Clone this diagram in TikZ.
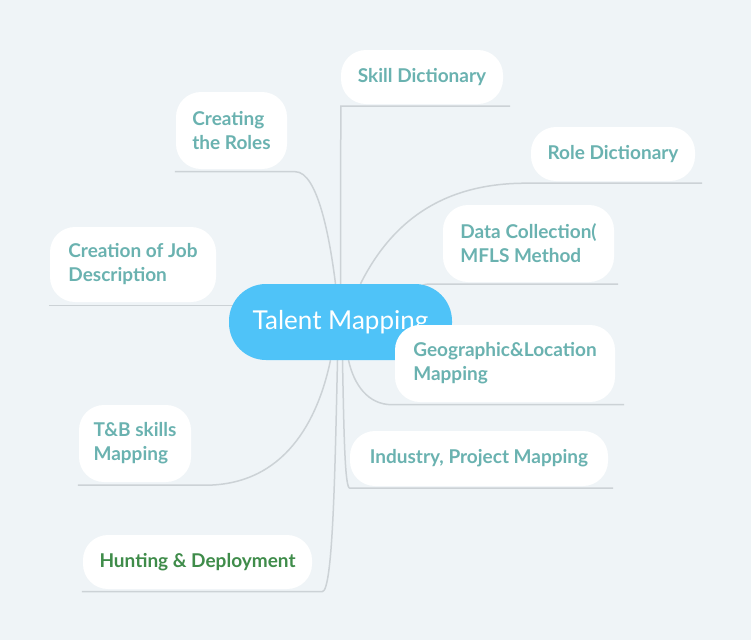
\documentclass[tikz,border=0pt]{standalone}
\usepackage{fontspec}
\setmainfont{Lato}
\usepackage{xcolor}
\usepackage{tikz}
\usetikzlibrary{positioning}

\definecolor{bgcol}{RGB}{239,244,247}
\definecolor{hubblue}{RGB}{79,195,248}
\definecolor{topicteal}{RGB}{106,178,176}
\definecolor{topicgreen}{RGB}{63,140,74}
\definecolor{linegray}{RGB}{204,210,214}

\pgfdeclarelayer{edges}
\pgfsetlayers{edges,main}

\begin{document}
\begin{tikzpicture}[
  x=1pt, y=-1pt,
  topic/.style={rectangle, rounded corners=25pt, fill=white, text=topicteal, font=\fontsize{19}{24}\selectfont\bfseries, align=left, inner sep=0pt},
  hub/.style={rectangle, rounded corners=37pt, fill=hubblue, text=white, font=\fontsize{26}{30}\selectfont, inner sep=0pt},
  branch/.style={draw=linegray, line width=1.5pt}
]

\useasboundingbox (0,0) rectangle (751,640);

% Skill Dictionary box
\node[topic, minimum width=162pt, minimum height=54pt] (skill) at (422,77) {Skill Dictionary};

% Creating the Roles box
\node[topic, minimum width=111pt, minimum height=77pt] (roles) at (231.5,130.5) {Creating\\the Roles};

% Role Dictionary box
\node[topic, minimum width=164pt, minimum height=54pt] (roledict) at (613,154) {Role Dictionary};

% Data Collection box
\node[topic, minimum width=171pt, minimum height=77pt] (datacoll) at (528.5,243.5) {Data Collection(\\MFLS Method};

% Creation of Job Description box
\node[topic, minimum width=166pt, minimum height=75pt] (jobdesc) at (133,264.5) {Creation of Job\\Description};

% Talent Mapping hub
\node[hub, minimum width=223pt, minimum height=76pt] (tm) at (340.5,322) {Talent Mapping};

% Geographic&Location box
\node[topic, minimum width=220pt, minimum height=77pt] (geo) at (505,363.5) {Geographic\&Location\\Mapping};

% T&B skills box
\node[topic, minimum width=112pt, minimum height=77pt] (tbskills) at (135,443.5) {T\&B skills\\Mapping};

% Industry, Project Mapping box
\node[topic, minimum width=258pt, minimum height=55pt] (industry) at (479,458.5) {Industry, Project Mapping};

% Hunting & Deployment box
\node[topic, text=topicgreen, minimum width=229pt, minimum height=54pt] (hunting) at (197.5,562) {Hunting \& Deployment};

% underline ends
\coordinate (jd-u) at ([shift={(-1pt,-3.5pt)}]jobdesc.south west);

\begin{pgfonlayer}{edges}
\fill[bgcol] (0,0) rectangle (751,640);

% branches above the hub
\draw[branch] (tm.north) -- ([yshift=-2pt]skill.south west) -- ([shift={(7pt,-2pt)}]skill.south east);
\draw[branch] ([xshift=-5pt]tm.north) .. controls (330,240) and (318,171.5) .. ([shift={(8pt,-2.5pt)}]roles.south east) -- ([shift={(-1pt,-2.5pt)}]roles.south west);
\draw[branch] ([xshift=20pt]tm.north) .. controls (395,215) and (450,183) .. ([shift={(-4pt,-2pt)}]roledict.south west) -- ([shift={(7pt,-2pt)}]roledict.south east);
\draw[branch] ([shift={(-37pt,-12pt)}]tm.north east) .. controls (418,286) and (422,284) .. ([shift={(-13pt,-2pt)}]datacoll.south west) -- ([shift={(4pt,-2pt)}]datacoll.south east);

% branch to the left
\draw[branch] (jd-u) -- (jd-u -| tm.center);

% branches below the hub
\draw[branch] ([xshift=8pt]tm.south) .. controls (354,385) and (368,404.5) .. ([shift={(-3pt,-2.5pt)}]geo.south west) -- ([shift={(9pt,-2.5pt)}]geo.south east);
\draw[branch] ([xshift=-10pt]tm.south) .. controls (318,420) and (285,485) .. ([shift={(14pt,-3pt)}]tbskills.south east) -- ([shift={(-1pt,-3pt)}]tbskills.south west);
\draw[branch] ([xshift=2pt]tm.south) .. controls (344,440) and (345,488) .. ([yshift=-2pt]industry.south west) -- ([shift={(5pt,-2pt)}]industry.south east);
\draw[branch] ([xshift=-3pt]tm.south) .. controls (335,470) and (333,591.5) .. ([shift={(10pt,-2.5pt)}]hunting.south east) -- ([shift={(-1pt,-2.5pt)}]hunting.south west);
\end{pgfonlayer}

\end{tikzpicture}
\end{document}
